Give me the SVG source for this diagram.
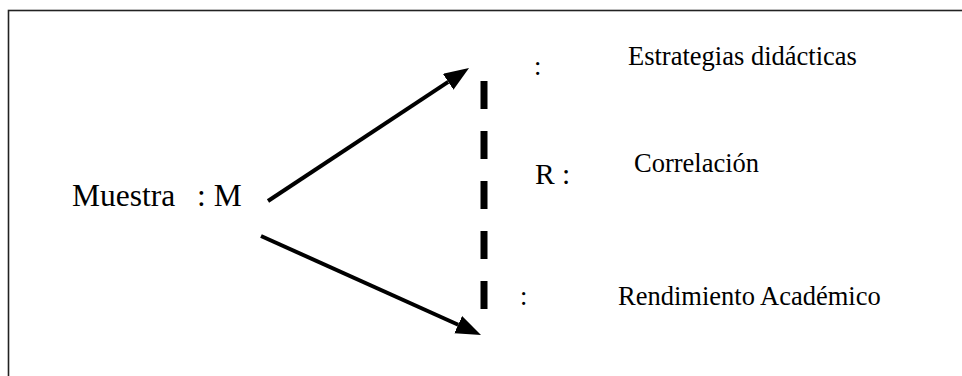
<svg xmlns="http://www.w3.org/2000/svg" width="962" height="376" viewBox="0 0 962 376">
<style>
text{fill:#000}
.lbl{font-size:26.5px}
.big{font-size:31.5px}
.r{font-size:29.5px}
.arrow{stroke:#000;stroke-width:4;fill:none;marker-end:url(#ah)}
.dash{stroke:#000;stroke-width:7;stroke-dasharray:28 22;fill:none}
</style>
<defs>
<marker id="ah" markerUnits="userSpaceOnUse" markerWidth="26" markerHeight="20" refX="0" refY="9.5" orient="auto">
<path d="M0,0 L25,9.5 L0,19 z" fill="#000"/>
</marker>
</defs>
<rect x="8.5" y="10.5" width="1000" height="420" fill="#fff" stroke="#222" stroke-width="1.6"/>
<g id="connectors">
<line class="arrow" x1="268" y1="201" x2="448.2" y2="81.8"/>
<line class="arrow" x1="261" y1="236" x2="458.2" y2="324.7"/>
<line class="dash" x1="484" y1="81" x2="484" y2="309"/>
</g>
<g font-family="Liberation Serif, Tinos, DejaVu Serif, serif">
<g id="muestra">
<text class="big" x="72" y="206">Muestra</text>
<text class="big" x="197" y="206">: M</text>
</g>
<g id="estrategias">
<text class="lbl" x="534" y="75">:</text>
<text class="lbl" x="628" y="65">Estrategias didácticas</text>
</g>
<g id="correlacion">
<text class="r" x="535" y="184">R :</text>
<text class="lbl" x="634" y="172">Correlación</text>
</g>
<g id="rendimiento">
<text class="lbl" x="520" y="305">:</text>
<text class="lbl" x="618" y="305">Rendimiento Académico</text>
</g>
</g>
</svg>
